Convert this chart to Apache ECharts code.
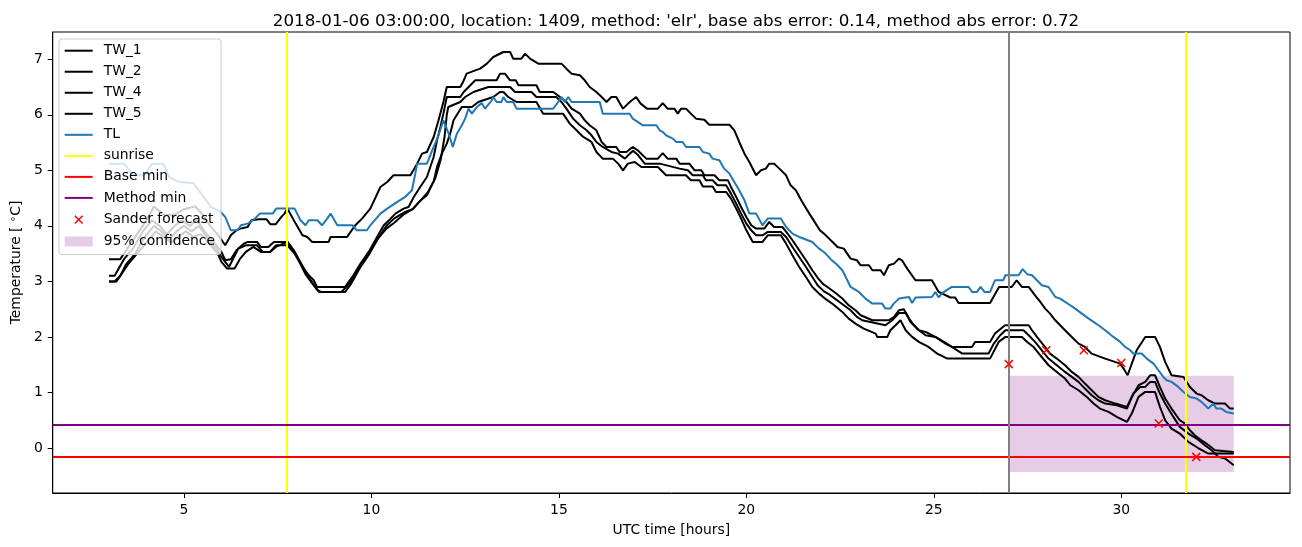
<!DOCTYPE html>
<html><head><meta charset="utf-8">
<script src="https://cdn.jsdelivr.net/npm/echarts@6/dist/echarts.min.js"></script>
<style>html,body{margin:0;padding:0;background:#fff}#c{width:1302px;height:547px}</style>
</head><body><div id="c"></div>
<script>
const titleText = "2018-01-06 03:00:00, location: 1409, method: 'elr', base abs error: 0.14, method abs error: 0.72";
const xTicks = [5, 10, 15, 20, 25, 30];
const yTicks = [0, 1, 2, 3, 4, 5, 6, 7];

const TW_1 = [[3.0,3.4],[3.3,3.4],[3.5,3.6],[3.8,3.9],[4.0,4.1],[4.2,4.35],[4.45,4.2],[4.75,4.2],[5.0,4.3],[5.3,4.35],[5.5,4.2],[5.7,4.0],[5.95,3.8],[6.1,3.65],[6.25,3.83],[6.4,3.92],[6.5,3.95],[6.7,3.98],[6.8,4.1],[7.0,4.12],[7.2,4.12],[7.3,4.03],[7.45,4.03],[7.6,4.16],[7.68,4.22],[7.76,4.31],[7.98,4.04],[8.16,3.83],[8.29,3.8],[8.42,3.71],[8.86,3.71],[8.91,3.8],[9.35,3.8],[9.57,4.01],[9.75,4.13],[9.97,4.31],[10.24,4.7],[10.42,4.79],[10.59,4.91],[11.04,4.91],[11.22,5.12],[11.35,5.3],[11.48,5.33],[11.66,5.6],[11.79,5.9],[11.92,6.23],[12.01,6.5],[12.37,6.5],[12.45,6.6],[12.54,6.74],[12.77,6.8],[12.9,6.83],[13.08,6.92],[13.25,7.04],[13.52,7.13],[13.7,7.13],[13.78,7.01],[14.0,7.01],[14.1,7.1],[14.23,7.01],[14.45,6.92],[15.07,6.92],[15.2,6.83],[15.34,6.74],[15.56,6.71],[15.69,6.62],[15.82,6.5],[16.0,6.41],[16.14,6.32],[16.27,6.23],[16.4,6.32],[16.53,6.32],[16.71,6.11],[16.89,6.23],[17.06,6.32],[17.18,6.2],[17.35,6.11],[17.64,6.11],[17.77,6.21],[17.9,6.11],[18.08,6.11],[18.17,6.02],[18.26,6.11],[18.39,6.11],[18.52,6.02],[18.66,5.93],[18.88,5.91],[19.01,5.82],[19.55,5.82],[19.68,5.72],[19.81,5.51],[19.95,5.3],[20.08,5.15],[20.26,4.91],[20.39,5.0],[20.52,5.03],[20.61,5.12],[20.74,5.12],[20.88,5.03],[21.06,4.91],[21.18,4.73],[21.32,4.64],[21.49,4.43],[21.68,4.22],[21.85,4.04],[21.96,3.92],[22.07,3.86],[22.3,3.71],[22.43,3.62],[22.6,3.59],[22.78,3.41],[22.95,3.38],[23.05,3.29],[23.27,3.29],[23.36,3.2],[23.58,3.2],[23.67,3.11],[23.8,3.29],[23.94,3.32],[24.07,3.41],[24.15,3.38],[24.29,3.23],[24.51,3.02],[24.95,3.02],[25.13,2.81],[25.44,2.71],[25.57,2.71],[25.66,2.61],[26.5,2.61],[26.74,2.9],[27.08,2.9],[27.21,3.02],[27.35,2.9],[27.53,2.9],[27.7,2.75],[27.84,2.63],[27.97,2.51],[28.1,2.42],[28.24,2.3],[28.37,2.21],[28.5,2.12],[28.68,2.0],[28.86,1.88],[29.03,1.82],[29.21,1.7],[29.57,1.61],[29.97,1.52],[30.06,1.43],[30.17,1.31],[30.28,1.52],[30.41,1.76],[30.64,2.0],[30.9,2.0],[31.03,1.82],[31.17,1.55],[31.34,1.31],[31.66,1.28],[31.83,1.1],[32.01,0.98],[32.14,0.95],[32.32,0.86],[32.5,0.8],[32.77,0.8],[32.9,0.71],[33.0,0.71]];

const TW_2 = [[3.0,3.1],[3.15,3.1],[3.4,3.4],[3.65,3.6],[3.9,3.9],[4.15,4.1],[4.35,4.0],[4.55,3.85],[4.75,4.0],[4.95,4.1],[5.15,4.0],[5.35,4.1],[5.55,3.9],[5.8,3.7],[6.0,3.53],[6.1,3.38],[6.25,3.4],[6.4,3.56],[6.6,3.68],[6.7,3.71],[6.95,3.71],[7.05,3.62],[7.25,3.62],[7.4,3.71],[7.76,3.71],[7.93,3.56],[8.07,3.38],[8.2,3.23],[8.33,3.11],[8.46,3.02],[8.55,2.9],[9.3,2.9],[9.49,3.08],[9.71,3.32],[9.93,3.53],[10.15,3.8],[10.33,4.01],[10.51,4.13],[10.64,4.22],[10.86,4.31],[10.99,4.34],[11.13,4.52],[11.3,4.7],[11.48,4.88],[11.66,5.24],[11.75,5.54],[11.84,5.78],[11.92,6.02],[12.01,6.32],[12.37,6.32],[12.46,6.41],[12.77,6.62],[13.34,6.62],[13.43,6.74],[13.56,6.74],[13.7,6.62],[13.85,6.62],[13.92,6.53],[14.4,6.53],[14.49,6.41],[14.85,6.41],[15.03,6.32],[15.2,6.23],[15.34,6.11],[15.56,6.02],[15.69,5.9],[15.82,5.81],[16.0,5.72],[16.14,5.51],[16.27,5.42],[16.53,5.42],[16.62,5.33],[16.8,5.33],[16.97,5.42],[17.1,5.36],[17.33,5.21],[17.64,5.21],[17.77,5.31],[17.9,5.21],[18.13,5.21],[18.22,5.12],[18.48,5.12],[18.62,5.0],[18.8,5.0],[18.88,4.91],[19.15,4.91],[19.28,4.82],[19.51,4.82],[19.59,4.7],[19.73,4.52],[19.86,4.34],[20.0,4.16],[20.13,4.01],[20.26,3.95],[20.48,3.95],[20.61,4.07],[20.74,3.98],[20.96,3.98],[21.1,3.86],[21.23,3.74],[21.41,3.56],[21.59,3.38],[21.76,3.2],[21.92,3.05],[22.05,2.95],[22.2,2.88],[22.38,2.79],[22.56,2.69],[22.73,2.57],[22.91,2.48],[23.05,2.39],[23.36,2.3],[23.8,2.3],[23.94,2.36],[24.07,2.48],[24.2,2.5],[24.34,2.33],[24.47,2.21],[24.6,2.12],[24.78,2.09],[25.04,2.0],[25.31,1.88],[25.48,1.82],[26.02,1.82],[26.1,1.91],[26.5,1.91],[26.63,2.06],[26.9,2.21],[27.53,2.21],[27.62,2.12],[27.75,2.0],[27.93,1.85],[28.1,1.7],[28.28,1.61],[28.5,1.49],[28.68,1.37],[28.86,1.28],[29.03,1.16],[29.21,1.04],[29.39,0.92],[29.57,0.86],[29.84,0.8],[30.15,0.74],[30.28,0.92],[30.46,1.13],[30.64,1.19],[30.77,1.31],[30.9,1.31],[31.03,1.1],[31.17,0.89],[31.34,0.71],[31.56,0.5],[31.7,0.44],[31.83,0.32],[31.96,0.23],[32.14,0.14],[32.27,0.08],[32.5,-0.04],[33.0,-0.07]];

const TW_4 = [[3.0,3.0],[3.2,3.0],[3.3,3.1],[3.45,3.3],[3.7,3.5],[3.95,3.8],[4.2,4.0],[4.4,3.9],[4.6,3.75],[4.8,3.9],[5.0,4.0],[5.2,3.9],[5.4,4.0],[5.6,3.8],[5.85,3.6],[6.0,3.44],[6.2,3.26],[6.45,3.59],[6.65,3.65],[6.95,3.65],[7.1,3.53],[7.3,3.53],[7.45,3.65],[7.76,3.65],[7.95,3.5],[8.1,3.32],[8.25,3.12],[8.4,2.98],[8.6,2.81],[9.3,2.81],[9.45,2.95],[9.7,3.25],[9.95,3.5],[10.2,3.8],[10.4,4.0],[10.6,4.13],[10.9,4.25],[11.1,4.3],[11.3,4.45],[11.5,4.6],[11.7,4.85],[11.85,5.2],[11.95,5.6],[12.01,6.0],[12.05,6.14],[12.37,6.23],[12.5,6.32],[12.72,6.41],[13.12,6.5],[13.7,6.5],[13.83,6.41],[14.27,6.41],[14.4,6.32],[14.93,6.32],[15.07,6.23],[15.2,6.11],[15.38,5.93],[15.56,5.81],[15.74,5.72],[15.87,5.63],[16.0,5.51],[16.17,5.42],[16.4,5.33],[16.58,5.3],[16.76,5.21],[16.89,5.3],[16.98,5.35],[17.1,5.28],[17.29,5.12],[17.69,5.12],[18.22,5.03],[18.44,5.0],[18.57,4.91],[18.84,4.91],[18.92,4.82],[19.1,4.82],[19.23,4.73],[19.46,4.73],[19.59,4.58],[19.73,4.4],[19.86,4.22],[20.0,4.04],[20.13,3.92],[20.26,3.83],[20.43,3.83],[20.57,3.89],[20.92,3.89],[21.06,3.8],[21.23,3.62],[21.41,3.44],[21.59,3.26],[21.76,3.08],[21.9,2.93],[22.07,2.82],[22.22,2.76],[22.38,2.68],[22.6,2.57],[22.78,2.48],[22.95,2.36],[23.09,2.3],[23.71,2.21],[23.89,2.3],[24.07,2.43],[24.25,2.43],[24.38,2.27],[24.6,2.12],[24.78,2.03],[25.04,2.0],[25.27,1.91],[25.48,1.82],[25.76,1.7],[26.46,1.7],[26.6,1.88],[26.77,2.03],[26.91,2.12],[27.39,2.12],[27.53,2.03],[27.7,1.91],[27.88,1.76],[28.06,1.61],[28.28,1.49],[28.5,1.37],[28.68,1.28],[28.86,1.19],[29.03,1.07],[29.21,0.95],[29.39,0.86],[29.57,0.8],[29.88,0.77],[30.15,0.71],[30.32,0.98],[30.5,1.1],[30.64,1.1],[30.77,1.19],[30.9,1.19],[31.03,0.98],[31.17,0.8],[31.39,0.56],[31.56,0.38],[31.79,0.26],[32.01,0.17],[32.23,0.05],[32.41,-0.04],[32.59,-0.16],[32.77,-0.19],[33.0,-0.31]];

const TW_5 = [[3.0,3.0],[3.15,3.0],[3.3,3.1],[3.5,3.3],[3.75,3.5],[4.0,3.7],[4.25,3.9],[4.45,3.8],[4.65,3.7],[4.85,3.8],[5.05,3.9],[5.25,3.8],[5.45,3.85],[5.65,3.7],[5.9,3.5],[6.0,3.35],[6.15,3.23],[6.35,3.23],[6.5,3.41],[6.65,3.53],[6.85,3.62],[7.05,3.53],[7.3,3.53],[7.45,3.62],[7.76,3.71],[7.95,3.53],[8.1,3.35],[8.25,3.15],[8.4,3.0],[8.55,2.85],[8.65,2.81],[9.2,2.81],[9.4,2.95],[9.65,3.22],[9.9,3.5],[10.15,3.75],[10.4,3.95],[10.6,4.05],[10.85,4.2],[11.1,4.3],[11.3,4.45],[11.48,4.55],[11.66,4.8],[11.75,5.06],[11.88,5.3],[12.01,5.48],[12.1,5.66],[12.19,5.9],[12.41,6.14],[12.68,6.14],[12.85,6.23],[13.25,6.32],[13.43,6.41],[13.52,6.41],[13.65,6.32],[13.87,6.23],[14.4,6.23],[14.58,6.02],[15.11,6.02],[15.29,5.84],[15.47,5.72],[15.65,5.6],[15.87,5.51],[16.0,5.33],[16.17,5.21],[16.44,5.21],[16.58,5.12],[16.71,5.0],[16.84,5.12],[17.02,5.15],[17.2,5.06],[17.64,5.06],[17.86,4.91],[18.39,4.91],[18.52,4.82],[18.75,4.82],[18.84,4.71],[19.1,4.71],[19.19,4.61],[19.46,4.61],[19.59,4.49],[19.73,4.31],[19.86,4.13],[20.0,3.92],[20.17,3.71],[20.43,3.71],[20.57,3.83],[20.92,3.83],[21.06,3.68],[21.23,3.47],[21.41,3.26],[21.59,3.08],[21.76,2.9],[21.94,2.78],[22.12,2.68],[22.33,2.58],[22.56,2.45],[22.73,2.33],[22.91,2.24],[23.13,2.15],[23.45,2.06],[23.49,2.0],[23.76,2.0],[23.84,2.12],[23.98,2.21],[24.11,2.3],[24.25,2.12],[24.42,2.0],[24.6,1.91],[24.86,1.82],[25.09,1.7],[25.36,1.61],[26.5,1.61],[26.73,1.91],[26.91,2.0],[27.35,2.0],[27.49,1.91],[27.66,1.82],[27.84,1.67],[28.06,1.49],[28.28,1.37],[28.5,1.25],[28.64,1.13],[28.86,1.04],[29.08,0.92],[29.26,0.8],[29.43,0.71],[29.66,0.65],[29.88,0.56],[30.15,0.47],[30.28,0.62],[30.46,0.92],[30.64,1.01],[30.9,1.01],[31.03,0.74],[31.17,0.5],[31.34,0.35],[31.56,0.26],[31.79,0.11],[32.05,0.0],[32.32,-0.1],[33.0,-0.1]];

const TL = [[3.0,5.12],[3.4,5.12],[3.55,5.0],[3.65,4.91],[3.95,4.91],[4.15,5.12],[4.45,5.12],[4.6,4.88],[4.85,4.79],[5.25,4.77],[5.45,4.59],[5.72,4.34],[5.98,4.25],[6.1,4.16],[6.25,3.92],[6.43,3.92],[6.52,4.01],[6.7,4.04],[6.88,4.12],[7.02,4.22],[7.37,4.22],[7.46,4.31],[7.95,4.31],[8.11,4.1],[8.24,4.01],[8.33,4.1],[8.56,4.1],[8.68,4.01],[8.82,4.13],[8.91,4.22],[9.09,4.01],[9.49,4.01],[9.61,3.92],[9.88,3.92],[9.97,4.01],[10.24,4.22],[10.42,4.31],[10.64,4.41],[10.9,4.52],[11.08,4.64],[11.17,4.94],[11.22,5.12],[11.48,5.12],[11.66,5.42],[11.79,5.63],[11.92,5.9],[12.06,5.66],[12.17,5.42],[12.28,5.66],[12.41,5.81],[12.5,5.93],[12.59,6.11],[12.68,6.02],[12.81,6.14],[12.94,6.21],[13.03,6.11],[13.21,6.26],[13.25,6.32],[13.34,6.23],[13.47,6.23],[13.52,6.32],[13.61,6.23],[13.78,6.23],[13.87,6.11],[14.85,6.11],[14.98,6.23],[15.07,6.32],[15.16,6.23],[15.25,6.32],[15.34,6.23],[16.09,6.23],[16.17,6.02],[16.89,6.02],[16.97,5.93],[17.24,5.81],[17.6,5.81],[17.69,5.72],[17.77,5.69],[17.86,5.63],[18.04,5.57],[18.13,5.51],[18.3,5.51],[18.39,5.42],[18.75,5.42],[18.84,5.33],[19.01,5.3],[19.1,5.21],[19.28,5.18],[19.41,5.03],[19.55,4.94],[19.68,4.79],[19.81,4.64],[19.95,4.46],[20.08,4.22],[20.26,4.22],[20.43,4.01],[20.57,4.13],[20.92,4.13],[21.06,3.98],[21.23,3.86],[21.41,3.8],[21.76,3.71],[21.94,3.59],[22.1,3.51],[22.25,3.4],[22.42,3.3],[22.56,3.2],[22.65,3.08],[22.78,2.9],[23.0,2.81],[23.18,2.69],[23.36,2.6],[23.62,2.6],[23.71,2.51],[23.84,2.51],[23.93,2.6],[24.07,2.69],[24.34,2.72],[24.42,2.61],[24.51,2.71],[24.95,2.72],[25.04,2.81],[25.13,2.71],[25.22,2.79],[25.48,2.9],[25.93,2.9],[26.02,2.81],[26.15,2.81],[26.25,2.9],[26.35,2.81],[26.5,2.81],[26.63,3.02],[26.85,3.02],[26.91,3.11],[27.26,3.11],[27.37,3.22],[27.49,3.13],[27.62,3.11],[27.75,3.02],[27.88,2.93],[28.06,2.9],[28.24,2.72],[28.37,2.69],[28.5,2.63],[28.64,2.57],[28.77,2.51],[28.95,2.42],[29.13,2.33],[29.26,2.27],[29.39,2.21],[29.57,2.12],[29.79,2.0],[29.97,1.91],[30.1,1.82],[30.24,1.76],[30.32,1.7],[30.54,1.7],[30.68,1.61],[30.86,1.52],[30.99,1.4],[31.12,1.28],[31.21,1.22],[31.34,1.19],[31.52,1.1],[31.66,1.01],[31.83,0.92],[32.01,0.89],[32.14,0.83],[32.32,0.71],[32.45,0.8],[32.54,0.71],[32.67,0.71],[32.8,0.65],[33.0,0.62]];

const sunriseTimes = [7.74, 31.73];
const forecastStart = 27.0;
const baseMin = -0.16;
const methodMin = 0.41;
const forecastTimes = [27, 28, 29, 30, 31, 32];
const forecastValues = [1.51, 1.76, 1.76, 1.53, 0.44, -0.16];
const confTimes = [27, 33];
const confBounds = [-0.43, 1.30];

const FONT = 'DejaVu Sans';
const chart = echarts.init(document.getElementById('c'), null, {renderer: 'canvas'});

function blackLine(name, data) {
  return {name, type: 'line', data, symbol: 'none', showSymbol: false, z: 3,
    color: '#000000', lineStyle: {color: '#000000', width: 2}, emphasis: {disabled: true}};
}
const xPath = 'path://M0,0L10,10M10,0L0,10';
const lineIcon = 'path://M0,0L28,0L28,2L0,2Z';
const rectIcon = 'path://M0,0L28,0L28,10L0,10Z';
const xIcon = 'path://M-4,-4M0,0L10,10M10,0L0,10M14,14';

const option = {
  animation: false,
  title: {text: titleText, left: 671, top: 8, textAlign: 'center',
    textStyle: {fontSize: 16.7, fontWeight: 'normal', color: '#000', fontFamily: FONT}},
  grid: {left: 52, right: 12, top: 32, bottom: 54, show: true, borderColor: '#000', borderWidth: 1, backgroundColor: 'transparent'},
  xAxis: {type: 'value', min: 1.5, max: 34.5,
    axisLine: {show: true, onZero: false, lineStyle: {color: '#000', width: 1}},
    axisTick: {show: true, length: 5, lineStyle: {color: '#000'}, customValues: xTicks},
    axisLabel: {customValues: xTicks, color: '#000', fontSize: 13.9, fontFamily: FONT, margin: 10},
    splitLine: {show: false},
    name: 'UTC time [hours]', nameLocation: 'middle', nameGap: 30,
    nameTextStyle: {color: '#000', fontSize: 13.9, fontFamily: FONT}},
  yAxis: {type: 'value', min: -0.81, max: 7.49,
    axisLine: {show: true, onZero: false, lineStyle: {color: '#000', width: 1}},
    axisTick: {show: true, length: 5, lineStyle: {color: '#000'}, customValues: yTicks},
    axisLabel: {customValues: yTicks, color: '#000', fontSize: 13.9, fontFamily: FONT, margin: 10},
    splitLine: {show: false},
    name: 'Temperature [ {s|∘}C]', nameLocation: 'middle', nameGap: 25,
    nameTextStyle: {color: '#000', fontSize: 13.9, fontFamily: FONT,
      rich: {s: {fontSize: 10, fontFamily: FONT, color: '#000', padding: [0, 0, 6, 0]}}}},
  legend: {orient: 'vertical', left: 59, top: 39, itemWidth: 28, itemHeight: 14, itemGap: 7.03,
    padding: [4.7, 6, 6, 5.7], backgroundColor: 'rgba(255,255,255,0.8)', borderColor: '#cccccc',
    borderWidth: 1, borderRadius: 3, selectedMode: false, symbolKeepAspect: true,
    textStyle: {fontSize: 13.9, fontFamily: FONT, color: '#000', padding: [0, 0, 0, 6]},
    data: [
      {name: 'TW_1', icon: lineIcon, itemStyle: {color: '#000000'}},
      {name: 'TW_2', icon: lineIcon, itemStyle: {color: '#000000'}},
      {name: 'TW_4', icon: lineIcon, itemStyle: {color: '#000000'}},
      {name: 'TW_5', icon: lineIcon, itemStyle: {color: '#000000'}},
      {name: 'TL', icon: lineIcon, itemStyle: {color: '#1f77b4'}},
      {name: 'sunrise', icon: lineIcon, itemStyle: {color: '#ffff00'}},
      {name: 'Base min', icon: lineIcon, itemStyle: {color: '#ff0000'}},
      {name: 'Method min', icon: lineIcon, itemStyle: {color: '#800080'}},
      {name: 'Sander forecast', icon: xIcon, itemStyle: {color: 'rgba(0,0,0,0)', borderColor: '#ff0000', borderWidth: 1.5, opacity: 1}},
      {name: '95% confidence', icon: rectIcon, itemStyle: {color: 'rgba(128,0,128,0.2)'}}]},
  series: [
    blackLine('TW_1', TW_1), blackLine('TW_2', TW_2), blackLine('TW_4', TW_4), blackLine('TW_5', TW_5),
    {name: 'TL', type: 'line', data: TL, symbol: 'none', showSymbol: false, z: 3, color: '#1f77b4',
      lineStyle: {color: '#1f77b4', width: 2}},
    {name: 'sunrise', type: 'line', data: [], symbol: 'none', z: 4, color: '#ffff00', lineStyle: {color: '#ffff00', width: 2},
      markLine: {silent: true, symbol: ['none', 'none'], label: {show: false}, animation: false,
        lineStyle: {color: '#ffff00', width: 2, type: 'solid'}, data: sunriseTimes.map(v => ({xAxis: v}))}},
    {name: 'Base min', type: 'line', data: [], symbol: 'none', z: 4, color: '#ff0000', lineStyle: {color: '#ff0000', width: 2},
      markLine: {silent: true, symbol: ['none', 'none'], label: {show: false}, animation: false,
        lineStyle: {color: '#ff0000', width: 2, type: 'solid'}, data: [{yAxis: baseMin}]}},
    {name: 'Method min', type: 'line', data: [], symbol: 'none', z: 4, color: '#800080', lineStyle: {color: '#800080', width: 2},
      markLine: {silent: true, symbol: ['none', 'none'], label: {show: false}, animation: false,
        lineStyle: {color: '#800080', width: 2, type: 'solid'}, data: [{yAxis: methodMin}]}},
    {name: 'Sander forecast', type: 'scatter', z: 5, symbol: xPath, symbolSize: 8,
      data: forecastTimes.map((t, i) => [t, forecastValues[i]]),
      itemStyle: {color: 'rgba(0,0,0,0)', borderColor: '#ff0000', borderWidth: 1.5, opacity: 1}},
    {name: '95% confidence', type: 'line', data: [], symbol: 'none', z: 1, color: 'rgba(128,0,128,0.2)',
      markArea: {silent: true, itemStyle: {color: 'rgba(128,0,128,0.2)'},
        data: [[{xAxis: confTimes[0], yAxis: confBounds[0]}, {xAxis: confTimes[1], yAxis: confBounds[1]}]]}},
    {name: 'forecast start', type: 'line', data: [], symbol: 'none', z: 2, color: '#808080',
      markLine: {silent: true, symbol: ['none', 'none'], label: {show: false}, animation: false,
        lineStyle: {color: '#808080', width: 2, type: 'solid'}, data: [{xAxis: forecastStart}]}}
  ]
};
chart.setOption(option);
</script>
</body></html>
